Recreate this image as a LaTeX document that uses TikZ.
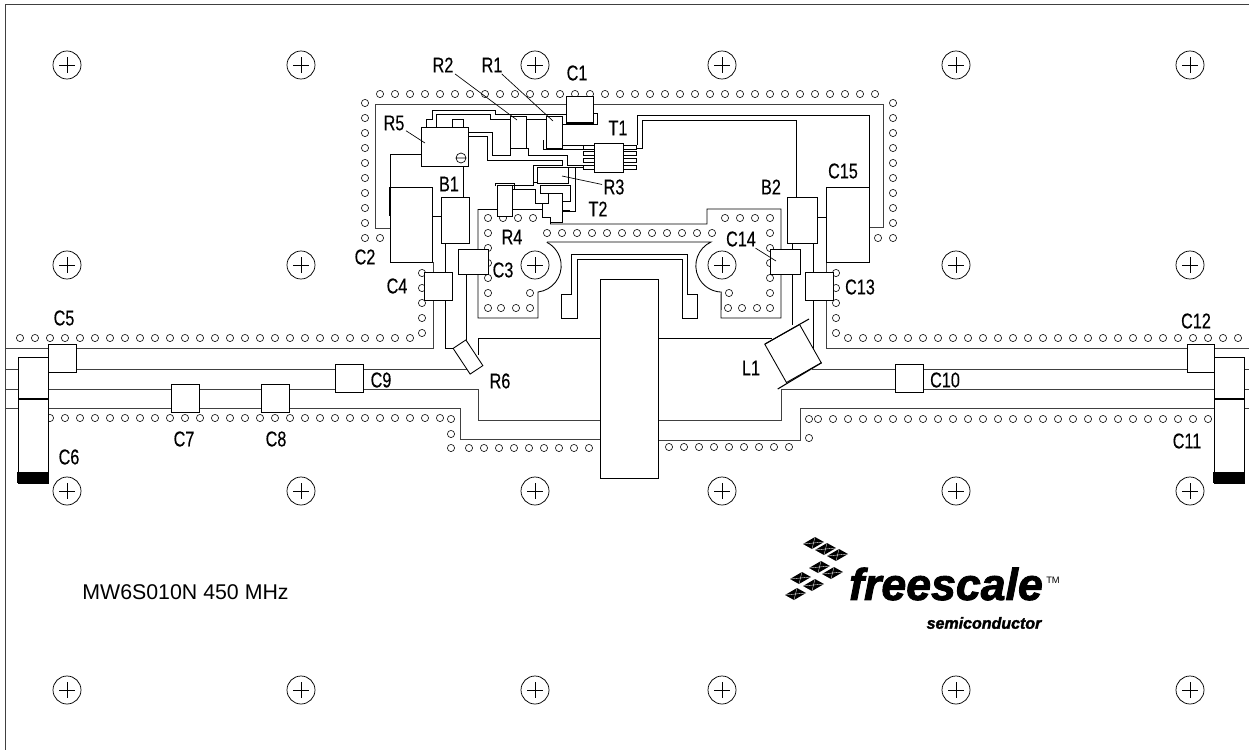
\documentclass[tikz,border=0pt]{standalone}
\usepackage{fontspec}
\setmainfont{Liberation Sans}
\newfontfamily\lblfont[FakeStretch=0.76,FakeBold=0.25]{Liberation Sans}
\newfontfamily\logofont[FakeBold=2]{Liberation Sans}
\newcommand{\partbox}[5]{\node[part,minimum width={((#4)-(#2))*0.75pt},minimum height={((#5)-(#3))*0.75pt}] (#1) at ({((#2)+(#4))/2},{((#3)+(#5))/2}) {};}

\begin{document}
\begin{tikzpicture}[x=0.75pt,y=-0.75pt]
	\tikzset{part/.style={draw=black,fill=white,inner sep=0pt,line width=0.65pt}}
	\tikzset{gnd/.style={draw=black!75,line width=0.72pt}}
	\tikzset{trace/.style={draw=black,line width=0.65pt}}
	\tikzset{via/.style={draw=black!90,fill=white,line width=0.5pt}}
	\tikzset{leader/.style={draw=black,line width=0.5pt}}
	\tikzset{lbl/.style={font=\lblfont\fontsize{16}{16}\selectfont,inner sep=1pt}}
	\useasboundingbox (0,0) rectangle (1249,750);
	\draw[gnd] (1249,4.5) -- (5,4.5) -- (5,750);
	% mounting holes
	\foreach \x in {67,301,535,722,956,1190}
		\foreach \y in {65,265,491,690} {
			\draw[line width=0.55pt] (\x,\y) circle[radius=14];
			\draw[line width=0.45pt] (\x-8,\y) -- (\x+8,\y) (\x,\y-8) -- (\x,\y+8);
		}
	% vias
	\foreach \x in {380,395,...,875} \draw[via] (\x,94) circle[radius=3.6];
	\foreach \y in {103,118,...,238} {
		\draw[via] (365,\y) circle[radius=3.6];
		\draw[via] (893,\y) circle[radius=3.6];
	}
	\draw[via] (380,238) circle[radius=3.6];
	\draw[via] (878,238) circle[radius=3.6];
	\foreach \x in {20,35,...,410} \draw[via] (\x,338) circle[radius=3.6];
	\foreach \y in {273,288,...,333} {
		\draw[via] (422,\y) circle[radius=3.6];
		\draw[via] (836,\y) circle[radius=3.6];
	}
	\foreach \x in {848,863,...,1238} \draw[via] (\x,338) circle[radius=3.6];
	\foreach \x in {50,65,...,440} \draw[via] (\x,418) circle[radius=3.6];
	\foreach \y in {419,434,448} \draw[via] (451,\y) circle[radius=3.6];
	\foreach \x in {469,484,...,590} \draw[via] (\x,448) circle[radius=3.6];
	\foreach \x in {669,684,...,789} \draw[via] (\x,447) circle[radius=3.6];
	\foreach \y in {438,419} \draw[via] (809,\y) circle[radius=3.6];
	\foreach \x in {818,833,...,1208} \draw[via] (\x,419) circle[radius=3.6];
	\foreach \x in {547,562,...,712} \draw[via] (\x,233) circle[radius=3.6];
	\foreach \x/\y in {488/218,503/218,518/218,533/218,488/233,488/248,488/263,488/278,488/293,488/308,501/308,516/308,530/308,530/293}
		\draw[via] (\x,\y) circle[radius=3.6];
	\foreach \x/\y in {725/218,740/218,755/218,770/218,770/233,770/248,770/263,770/278,770/293,770/308,757/308,742/308,728/308,729/293}
		\draw[via] (\x,\y) circle[radius=3.6];
	% ground outline
	\draw[gnd] (390,228) -- (375,228) -- (375,104) -- (883,104) -- (883,227) -- (869,227);
	\draw[gnd] (5,348) -- (433,348) -- (433,262) -- (400,262);
	\draw[gnd] (826,262) -- (826,348) -- (1249,348);
	\draw[gnd] (5,408) -- (460,408) -- (460,439) -- (600,439);
	\draw[gnd] (658,440) -- (800,440) -- (800,408) -- (1249,408);
	\draw[gnd] (5,389) -- (478,389) -- (478,420) -- (600,420);
	\draw[gnd] (658,420) -- (781,420) -- (781,389) -- (1249,389);
	\draw[gnd] (5,369) -- (48,369);
	\draw[gnd] (76,369) -- (467,369);
	\draw[gnd] (812,369) -- (1249,369);
	% pads round the transistor
	\draw[trace] (478,209) -- (478,318) -- (538,318) -- (538,292) arc[start angle=-83,end angle=63,radius=19.8pt];
	\draw[trace] (547,242) -- (711,242) arc[start angle=115,end angle=268,radius=19.7pt] -- (721,318) -- (781,318) -- (781,209) -- (707,209) -- (707,224) -- (550,224);
	\draw[trace] (561,318) -- (561,294) -- (571,294) -- (571,254) -- (687,254) -- (687,294) -- (697,294) -- (697,318) -- (682,318) -- (682,259) -- (577,259) -- (577,318) -- cycle;
	\draw[trace] (445,243) -- (445,272) (445,300) -- (445,348) -- (453,348);
	\draw[trace] (466,274) -- (466,340);
	\draw[trace] (478,355) -- (478,338) -- (772,338);
	\draw[trace] (813,243) -- (813,366);
	\draw[trace] (792,243) -- (792,325);
	% bias traces
	\draw[trace] (637,145) -- (637,115) -- (869,115) -- (869,187);
	\draw[trace] (630,148) -- (642,148) -- (642,120) -- (796,120) -- (796,197);
	\draw[trace] (390,187) -- (390,154) -- (421,154);
	\draw[trace] (426,127) -- (426,119) -- (432,119) -- (432,110) -- (495,110) -- (495,114) -- (566,114);
	\draw[trace] (436,127) -- (436,114) -- (490,114) -- (490,119) -- (510,119);
	\draw[trace] (526,119) -- (546,119);
	\draw[trace] (452,127) -- (452,119) -- (463,119) -- (463,127);
	\draw[trace] (468,132) -- (492,132) -- (492,155) -- (510,155) -- (510,148);
	\draw[trace] (468,136) -- (487,136) -- (487,160) -- (562,160) -- (562,165) -- (533,165) -- (533,182) -- (537,182);
	\draw[trace] (526,148) -- (528,148) -- (528,155) -- (567,155) -- (567,165) -- (583,165);
	\draw[trace] (543,140) -- (543,149) -- (583,149);
	\draw[trace] (562,145) -- (583,145);
	\draw[trace] (593,113) -- (597,113) -- (597,124) -- (562,124);
	\draw[trace] (575,167) -- (575,211) -- (562,211);
	\draw[trace] (568,167) -- (583,167);
	\draw[trace] (463,166) -- (463,197);
	\draw[trace] (432,216) -- (441,216);
	\draw[trace] (817,217) -- (826,217);
	\draw[trace] (512,185) -- (533,185) -- (533,182);
	\draw[trace] (512,189) -- (535,189) -- (535,203) -- (542,203);
	\draw[trace] (478,209) -- (497,209);
	\draw[trace] (512,209) -- (542,209);
	\draw[trace] (540,193) -- (540,185) -- (570,185) -- (570,201) -- (562,201);
	\draw[trace] (540,193) -- (548,193);
	\draw[trace] (570,210) -- (562,210);
	\draw[trace] (550,224) -- (550,217);
	\draw[trace] (495,186) -- (495,183) -- (514,183) -- (514,190);
	% parts
	\partbox{C1}{566}{96}{593}{123}
	\draw[line width=1pt] (566,123) -- (593,123);
	\partbox{R1}{546}{116}{562}{148}
	\partbox{R2}{510}{116}{526}{148}
	\partbox{R3}{537}{167}{568}{183}
	\partbox{R4}{497}{185}{512}{216}
	\partbox{R5}{421}{127}{468}{166}
	\draw[line width=0.5pt] (461,158) circle[radius=5] (456,158) -- (466,158);
	\foreach \y in {147,153.5,160,167} {
		\partbox{pinL\y}{583}{\y-2}{594}{\y+2}
		\partbox{pinR\y}{623}{\y-2}{636}{\y+2}
	}
	\partbox{T1}{594}{143}{623}{172}
	\draw[part] (548,193) -- (562,193) -- (562,222) -- (550,222) -- (550,217) -- (542,217) -- (542,203) -- (548,203) -- cycle;
	\partbox{B1}{441}{197}{469}{243}
	\partbox{B2}{787}{197}{817}{243}
	\partbox{C2}{390}{187}{432}{262}
	\draw[line width=1pt] (390,187) -- (390,216);
	\partbox{C15}{826}{187}{869}{262}
	\partbox{C3}{458}{249}{488}{274}
	\partbox{C4}{424}{272}{452}{300}
	\partbox{C14}{770}{249}{800}{274}
	\partbox{C13}{805}{272}{833}{300}
	\partbox{C5}{48}{344}{76}{372}
	\partbox{C7}{171}{384}{199}{412}
	\partbox{C8}{261}{384}{289}{412}
	\partbox{C9}{335}{364}{363}{392}
	\partbox{C10}{895}{364}{923}{392}
	\partbox{C12}{1187}{344}{1214}{372}
	\partbox{Q1}{600}{279}{658}{478}
	% side connectors
	\partbox{C6}{18}{357}{48}{483}
	\partbox{C11}{1214}{357}{1244}{483}
	\foreach \x in {18,1214} {
		\draw[line width=1.2pt] (\x,399) -- (\x+30,399);
		\fill[black] (\x-1,472) rectangle (\x+31,483);
	}
	\node[part,minimum width=30.8*0.75pt,minimum height=15.3*0.75pt,rotate=-56.5] (R6) at (468,357) {};
	\node[part,minimum width=44*0.75pt,minimum height=40*0.75pt,rotate=-60.5] (L1) at (793,353.5) {};
	\draw[line width=0.8pt] (765,344) -- (809,319) (777.7,389) -- (821.7,362.7);
	% labels
	\foreach \n/\x/\y/\t in {lR2/443/65/R2,lR1/492/65/R1,lC1/577/73/C1,lT1/618/128/T1,lR5/394/123/R5,lB1/449/184/B1,lR3/614/187/R3,lT2/598/209/T2,lR4/512/237/R4,lC2/365/257/C2,lC4/397/286/C4,lC3/503/270/C3,lC5/64/318/C5,lC6/69/457/C6,lC7/184/439/C7,lC8/276/439/C8,lC9/381/380/C9,lR6/500/381/R6,lL1/751/368/L1,lC10/945/380/C10,lC11/1187/441/C11,lC12/1196/321/C12,lC13/860/287/C13,lC14/741/239/C14,lC15/843/171/C15,lB2/771/187/B2}
		\node[lbl] (\n) at (\x,\y) {\t};
	\coordinate (R2end) at (517,120);
	\coordinate (R1end) at (553,121);
	\coordinate (R5end) at (425,143);
	\coordinate (R3end) at (562,176);
	\coordinate (C14end) at (776,261);
	\draw[leader] (lR2) -- (R2end);
	\draw[leader] (lR1) -- (R1end);
	\draw[leader] (lR5) -- (R5end);
	\draw[leader] (lR3) -- (R3end);
	\draw[leader] (lC14) -- (C14end);
	% title and logo
	\node[font=\fontsize{16}{16}\selectfont,inner sep=0pt] (title) at (185.5,592.5) {MW6S010N 450 MHz};
	\foreach \x/\y in {813/543,825/549,837/555,819/567,832/573,800/578,813/585,795/594} {
		\fill[black] (\x-10,\y+1) -- (\x+2,\y-6) -- (\x+11,\y-1) -- (\x-1,\y+6) -- cycle;
		\draw[white,line width=0.25pt] (\x-10,\y+1) -- (\x+11,\y-1) (\x+2,\y-6) -- (\x-1,\y+6);
	}
	\node[font=\logofont\bfseries\itshape\fontsize{33.5}{33.5}\selectfont,inner sep=0pt] (logo) at (946,584) {freescale};
	\node[font=\fontsize{7}{7}\selectfont,inner sep=0pt] (tm) at (1053,580) {TM};
	\node[font=\logofont\bfseries\itshape\fontsize{12}{12}\selectfont,inner sep=0pt] (semi) at (984,623) {semiconductor};
\end{tikzpicture}
\end{document}
